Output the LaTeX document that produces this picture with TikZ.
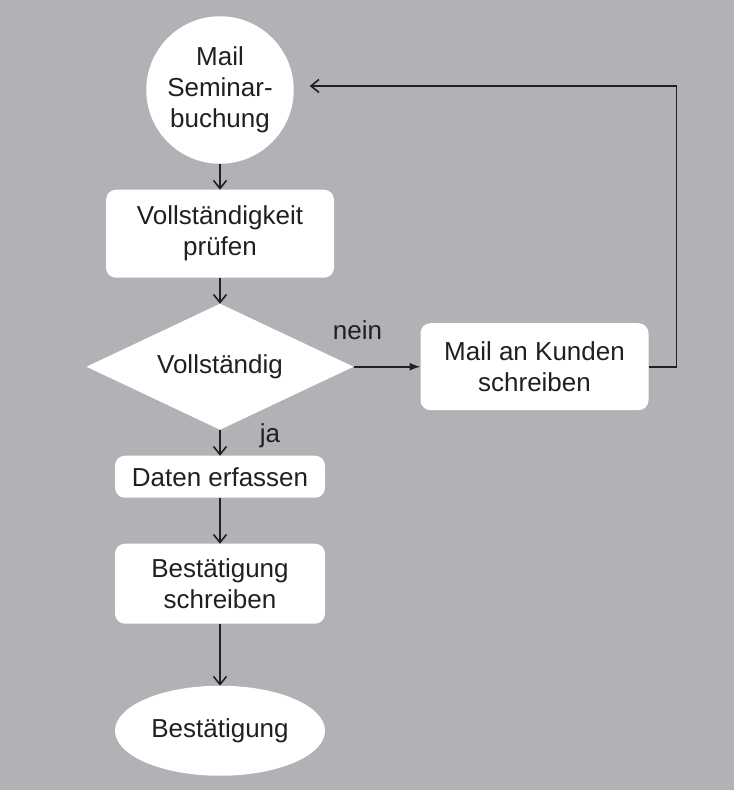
\documentclass[tikz,border=0pt]{standalone}
\usepackage{fontspec}
\setmainfont{Liberation Sans}
\usetikzlibrary{positioning, arrows.meta, shapes.geometric}

\definecolor{bggray}{RGB}{177,178,182}
\definecolor{inkline}{RGB}{35,31,32}

\begin{document}
\begin{tikzpicture}[
    x=0.5pt, y=-0.5pt,
    node distance=13pt,
    base/.style={fill=white, draw=none, text=inkline, font=\fontsize{13}{15.5}\selectfont, align=center, inner sep=2pt, outer sep=0pt},
    box/.style={base, rectangle, rounded corners=5pt, minimum width=114pt},
    smallbox/.style={base, rectangle, rounded corners=5pt, minimum width=105pt},
    terminal/.style={base, circle, minimum size=70pt},
    endpoint/.style={base, ellipse, minimum width=105pt, minimum height=45pt},
    decision/.style={base, diamond, aspect=2.1, minimum width=133.5pt, minimum height=63pt, inner sep=0pt},
    lbl/.style={text=inkline, font=\fontsize{13}{15.5}\selectfont, inner sep=0pt},
    arrow/.style={-{Straight Barb[length=4pt, width=6.5pt]}, line width=0.8pt, draw=inkline},
    solidarrow/.style={-{Latex[length=5.5pt, width=4pt]}, line width=0.8pt, draw=inkline}
]
    % Background
    \fill[bggray] (0,0) rectangle (734,790);
    \useasboundingbox (0,0) rectangle (734,790);

    % Main column
    \node[terminal] (start) at (220,90) {Mail\\Seminar-\\buchung};
    \node[box, minimum height=44pt, below=of start] (pruefen) {Vollst\"andigkeit\\pr\"ufen};
    \node[decision, below=of pruefen] (check) {Vollst\"andig};
    \node[smallbox, minimum height=21pt, below=of check] (daten) {Daten erfassen};
    \node[smallbox, minimum height=40pt, below=23pt of daten] (best) {Best\"atigung\\schreiben};
    \node[endpoint, below=31pt of best] (ende) {Best\"atigung};

    % Branch
    \node[box, minimum height=43.5pt, right=33.5pt of check] (kunde) {Mail an Kunden\\schreiben};

    % Labels
    \node[lbl] (nein) at ([xshift=2pt, yshift=18.5pt]check.east) {nein};
    \node[lbl] (ja) at ([xshift=25pt, yshift=-3pt]check.south) {ja};

    % Connectors
    \draw[arrow] (start) -- (pruefen);
    \draw[arrow] (pruefen) -- (check);
    \draw[arrow] (check) -- (daten);
    \draw[arrow] (daten) -- (best);
    \draw[arrow] (best) -- (ende);
    \draw[solidarrow] (check.east) -- (kunde.west);
    \draw[arrow, shorten >=8pt] (kunde.east) -- ++(28,0) |- ([yshift=2pt]start.east);

\end{tikzpicture}
\end{document}
